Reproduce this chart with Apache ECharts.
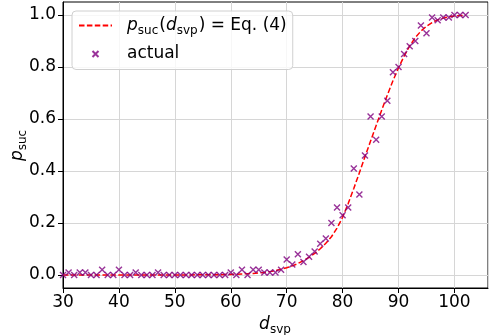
<!DOCTYPE html>
<html>
<head>
<meta charset="utf-8">
<script src="https://cdn.jsdelivr.net/npm/echarts@6/dist/echarts.min.js"></script>
<style>
  html, body { margin: 0; padding: 0; background: #fff; }
  #main { width: 490px; height: 335px; }
</style>
</head>
<body>
<div id="main"></div>
<script>
// d_svp values (x)
var dsvp = [30, 31, 32, 33, 34, 35, 36, 37, 38, 39,
  40, 41, 42, 43, 44, 45, 46, 47, 48, 49,
  50, 51, 52, 53, 54, 55, 56, 57, 58, 59,
  60, 61, 62, 63, 64, 65, 66, 67, 68, 69,
  70, 71, 72, 73, 74, 75, 76, 77, 78, 79,
  80, 81, 82, 83, 84, 85, 86, 87, 88, 89,
  90, 91, 92, 93, 94, 95, 96, 97, 98, 99,
  100, 101, 102];

// measured success rate
var actual = [0, 0.01, 0, 0.01, 0.01, 0, 0, 0.02, 0, 0,
  0.02, 0, 0, 0.01, 0, 0, 0, 0.01, 0, 0,
  0, 0, 0, 0, 0, 0, 0, 0, 0, 0,
  0.01, 0, 0.02, 0, 0.02, 0.02, 0.01, 0.01, 0.01, 0.02,
  0.06, 0.04, 0.08, 0.05, 0.07, 0.09, 0.12, 0.14, 0.20, 0.26,
  0.23, 0.26, 0.41, 0.31, 0.46, 0.61, 0.52, 0.61, 0.67, 0.78,
  0.80, 0.85, 0.88, 0.90, 0.96, 0.93, 0.99, 0.98, 0.99, 0.99,
  1.0, 1.0, 1.0];

// Eq. (4) curve
var fitted = [0, 0, 0, 0, 0, 0, 0, 0, 0, 0,
  0, 0, 0, 0, 0, 0, 0, 0, 0, 0,
  0, 0, 0, 0, 0.001, 0.001, 0.001, 0.001, 0.001, 0.002,
  0.002, 0.003, 0.004, 0.005, 0.006, 0.008, 0.010, 0.013, 0.017, 0.022,
  0.028, 0.035, 0.044, 0.055, 0.068, 0.083, 0.101, 0.122, 0.147, 0.180,
  0.222, 0.275, 0.333, 0.393, 0.455, 0.515, 0.575, 0.635, 0.692, 0.747,
  0.797, 0.842, 0.881, 0.913, 0.938, 0.957, 0.971, 0.981, 0.988, 0.993,
  0.996, 0.998, 0.999];

var font = 'DejaVu Sans';
var richMath = {
  g: { width: 10, fontSize: 17, lineHeight: 22 },
  i: { fontFamily: font, fontStyle: 'italic', fontSize: 17, lineHeight: 22, color: '#000' },
  s: { fontFamily: font, fontSize: 12, lineHeight: 13, verticalAlign: 'bottom', color: '#000', padding: [0, 1, 0, 0] },
  n: { fontFamily: font, fontSize: 17, lineHeight: 22, color: '#000' }
};

var myChart = echarts.init(document.getElementById('main'));
myChart.setOption({
  animation: false,
  textStyle: { fontFamily: font },
  grid: [
    { left: 63, right: 2, top: 2, bottom: 47, show: true, borderColor: '#000', borderWidth: 1, outerBoundsMode: 'none' },
    // same box, limited to the 0..1 span so the ticks land on 0.0, 0.2 ...
    { left: 63, right: 2, top: 15, bottom: 60, outerBoundsMode: 'none' }
  ],
  legend: {
    orient: 'vertical',
    left: 72,
    top: 11,
    itemWidth: 33,
    itemHeight: 14,
    itemGap: 9,
    padding: [6, 6, 7, 6],
    borderColor: '#d0d0d0',
    borderWidth: 1,
    borderRadius: 4,
    backgroundColor: 'rgba(255,255,255,0.8)',
    data: [
      { name: 'fit', itemStyle: { opacity: 0 } },
      { name: 'actual', icon: 'path://M-14,-7L-14,-7M14,7L14,7M-3,-3L3,3M3,-3L-3,3' }
    ],
    formatter: function (name) {
      if (name === 'fit') return '{g| }{i|p}{s|suc}{n|(}{i|d}{s|svp}{n|) = Eq. (4)}';
      return '{g| }{n|actual}';
    },
    textStyle: { fontSize: 17, color: '#000', rich: richMath }
  },
  xAxis: [
    {
      gridIndex: 0,
      type: 'value',
      min: 30,
      max: 106,
      interval: 10,
      name: '{i|d}{s|svp}',
      nameLocation: 'middle',
      nameGap: 24,
      nameTextStyle: { rich: richMath },
      axisLine: { onZero: false, lineStyle: { color: '#000', width: 1 } },
      axisTick: { show: true, length: 5, lineStyle: { color: '#000' } },
      axisLabel: { fontSize: 17, color: '#000', margin: 6, fontFamily: font, showMaxLabel: false },
      splitLine: { show: true, lineStyle: { color: '#d6d6d6', width: 1 } }
    },
    { gridIndex: 1, type: 'value', min: 30, max: 106, show: false }
  ],
  yAxis: [
    {
      gridIndex: 0,
      type: 'value',
      min: -0.05,
      max: 1.05,
      name: '{i|p}{s|suc}',
      nameLocation: 'middle',
      nameRotate: 90,
      nameGap: 34,
      nameTextStyle: { rich: richMath },
      axisLine: { show: true, onZero: false, lineStyle: { color: '#000', width: 1 } },
      axisTick: { show: false },
      axisLabel: { show: false },
      splitLine: { show: false }
    },
    {
      gridIndex: 1,
      type: 'value',
      min: 0,
      max: 1,
      interval: 0.2,
      axisLine: { show: false, onZero: false },
      axisTick: { show: true, length: 5, lineStyle: { color: '#000' } },
      axisLabel: {
        fontSize: 17, color: '#000', margin: 7, fontFamily: font,
        formatter: function (v) { return v.toFixed(1); }
      },
      splitLine: { show: true, lineStyle: { color: '#d6d6d6', width: 1 } }
    }
  ],
  series: [
    {
      name: 'fit',
      type: 'line',
      xAxisIndex: 0,
      yAxisIndex: 0,
      data: dsvp.map(function (x, i) { return [x, fitted[i]]; }),
      symbol: 'none',
      smooth: false,
      lineStyle: { color: '#ff0000', width: 1.5, type: [5.5, 2.4] },
      itemStyle: { color: '#ff0000' },
      z: 3
    },
    {
      name: 'actual',
      type: 'scatter',
      xAxisIndex: 0,
      yAxisIndex: 0,
      data: dsvp.map(function (x, i) { return [x, actual[i]]; }),
      symbol: 'path://M0,0L10,10M10,0L0,10',
      symbolSize: 6,
      itemStyle: { color: 'rgba(0,0,0,0)', borderColor: '#800080', borderWidth: 1.4 },
      z: 4
    }
  ]
});
</script>
</body>
</html>
